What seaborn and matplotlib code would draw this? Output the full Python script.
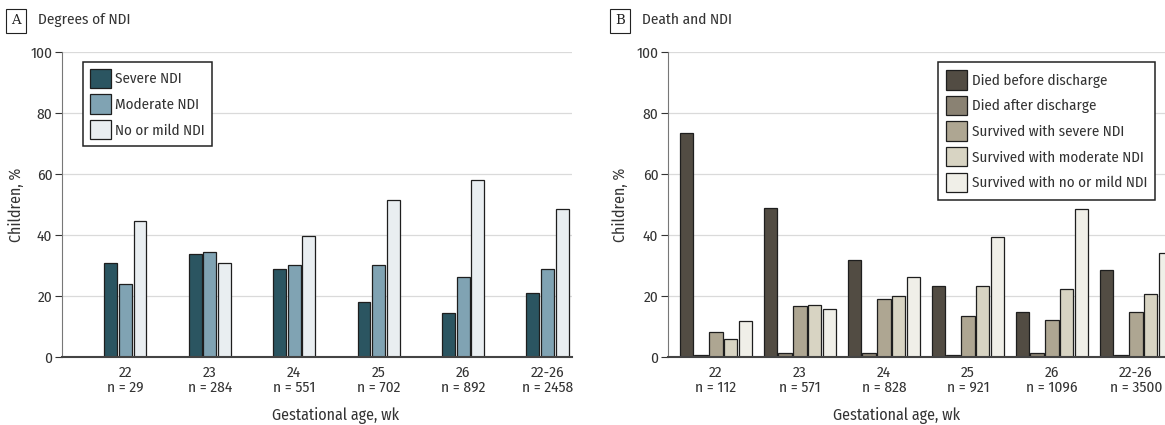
import numpy as np
import pandas as pd
import seaborn as sns
import matplotlib.pyplot as plt

# gestational age groups and sample sizes
ages = ["22", "23", "24", "25", "26", "22-26"]
n_a = [29, 284, 551, 702, 892, 2458]
n_b = [112, 571, 828, 921, 1096, 3500]

# panel A - degrees of NDI (% of survivors)
groups_a = ["Severe NDI", "Moderate NDI", "No or mild NDI"]
severe_a = [30.9, 33.7, 28.9, 17.9, 14.4, 21.0]
moderate_a = [24.0, 34.4, 30.1, 30.1, 26.2, 28.9]
mild_a = [44.6, 30.9, 39.8, 51.6, 58.1, 48.4]

# panel B - death and NDI (% of all children)
groups_b = ["Died before discharge", "Died after discharge", "Survived with severe NDI",
            "Survived with moderate NDI", "Survived with no or mild NDI"]
died_before = [73.4, 49.0, 31.9, 23.2, 14.8, 28.4]
died_after = [0.8, 1.3, 1.3, 0.8, 1.3, 0.8]
surv_severe = [8.2, 16.6, 19.1, 13.6, 12.2, 14.8]
surv_moderate = [6.0, 17.2, 20.1, 23.2, 22.3, 20.5]
surv_mild = [11.8, 15.6, 26.2, 39.2, 48.4, 34.1]

colors_a = ["#2b5561", "#80a3b3", "#e9eef1"]
colors_b = ["#524c43", "#8a8273", "#aea692", "#d8d4c3", "#f0efe8"]


def long_table(labels, groups, series):
    rows = []
    for g, vals in zip(groups, series):
        for lab, v in zip(labels, vals):
            rows.append({"age": lab, "group": g, "pct": v})
    return pd.DataFrame(rows)


labels_a = [f"{a}\nn = {n}" for a, n in zip(ages, n_a)]
labels_b = [f"{a}\nn = {n}" for a, n in zip(ages, n_b)]
df_a = long_table(labels_a, groups_a, [severe_a, moderate_a, mild_a])
df_b = long_table(labels_b, groups_b, [died_before, died_after, surv_severe, surv_moderate, surv_mild])

sns.set_theme(style="white")
plt.rcParams["font.family"] = ["Fira Sans Condensed", "PT Sans Narrow", "DejaVu Sans"]

W, H = 1165, 425
fig = plt.figure(figsize=(W / 100, H / 100), dpi=100)
ax_a = fig.add_axes([62 / W, 68 / H, 510 / W, 305 / H])
ax_b = fig.add_axes([668 / W, 68 / H, 514 / W, 305 / H])

sns.barplot(data=df_a, x="age", y="pct", hue="group", order=labels_a, hue_order=groups_a,
            palette=colors_a, width=0.52, gap=0.12, errorbar=None,
            edgecolor="#1e1e1e", linewidth=0.9, saturation=1, ax=ax_a)
sns.barplot(data=df_b, x="age", y="pct", hue="group", order=labels_b, hue_order=groups_b,
            palette=colors_b, width=0.88, gap=0.09, errorbar=None,
            edgecolor="#1e1e1e", linewidth=0.9, saturation=1, ax=ax_b)

# axis, xlim, legend x, ylabel x, xlabel x, legend border pad
panels = [(ax_a, (-0.75, 5.29), 0.041, -0.073, 0.537, 0.45),
          (ax_b, (-0.57, 5.55), 0.525, -0.078, 0.444, 0.55)]
for ax, xl, leg_x, ylab_x, xlab_x, bpad in panels:
    ax.set_xlim(*xl)
    ax.set_ylim(0, 100)
    ax.set_yticks(range(0, 101, 20))
    ax.yaxis.grid(True, color="#dadada", lw=0.9)
    ax.set_axisbelow(True)
    for s in ["top", "right"]:
        ax.spines[s].set_visible(False)
    ax.spines["left"].set_color("#777777")
    ax.spines["left"].set_linewidth(0.8)
    ax.spines["bottom"].set_color("#444444")
    ax.spines["bottom"].set_linewidth(1.5)
    ax.tick_params(axis="x", length=0, pad=6, labelsize=11, colors="#333333")
    for t in ax.get_xticklabels():
        t.set_linespacing(1.12)
    ax.tick_params(axis="y", length=5, width=0.8, pad=2, labelsize=11,
                   colors="#333333", left=True)
    ax.set_xlabel("Gestational age, wk", fontsize=11.5, color="#333333")
    ax.xaxis.set_label_coords(xlab_x, -0.165)
    ax.set_ylabel("Children, %", fontsize=11.5, color="#333333")
    ax.yaxis.set_label_coords(ylab_x, 0.5)
    handles, labs = ax.get_legend_handles_labels()
    leg = ax.legend(handles, labs, loc="upper left", bbox_to_anchor=(leg_x, 0.967),
                    fontsize=10.8, frameon=True, fancybox=False, framealpha=1,
                    edgecolor="#222222", handlelength=1.4, handleheight=1.6,
                    handletextpad=0.3, labelspacing=0.42, borderpad=bpad,
                    borderaxespad=0)
    leg.get_frame().set_linewidth(1.1)
    for t in leg.get_texts():
        t.set_color("#333333")

# panel letters and titles
for x0, letter, title in [(7, "A", "Degrees of NDI"), (611, "B", "Death and NDI")]:
    fig.text((x0 + 9) / W, 1 - 21 / H, letter, ha="center", va="center", fontsize=9.5,
             family="DejaVu Serif", color="#222222",
             bbox=dict(boxstyle="square,pad=0.4", fc="white", ec="#222222", lw=0.8))
    fig.text((x0 + 31) / W, 1 - 20 / H, title, ha="left", va="center", fontsize=11,
             color="#333333")

fig.savefig("out.png", dpi=100)
